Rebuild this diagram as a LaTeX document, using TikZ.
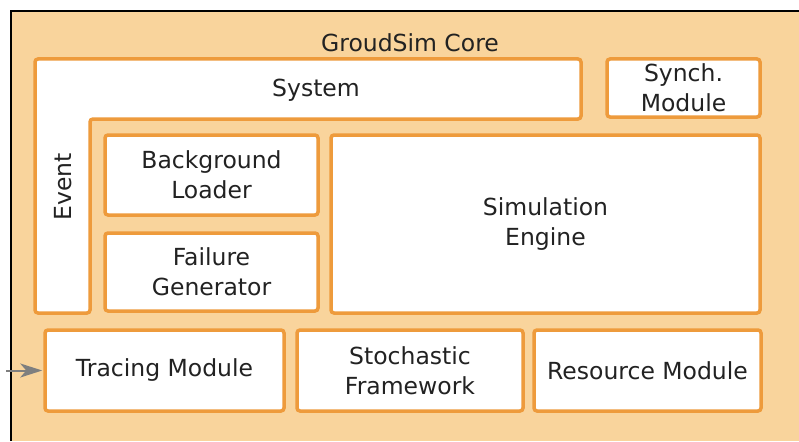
\documentclass[tikz,border=0pt]{standalone}
\usepackage{fontspec}
\setmainfont{DejaVu Sans}
\usetikzlibrary{arrows.meta}
\definecolor{bgorange}{HTML}{F9D49C}
\definecolor{boxorange}{HTML}{EE9B3C}
\definecolor{txt}{HTML}{222222}
\definecolor{arrowgray}{HTML}{7F7F7F}
\begin{document}
\begin{tikzpicture}[x=1pt,y=-1pt,
  lbl/.style={text=txt,font=\fontsize{23.5}{30}\selectfont,align=center,inner sep=0pt},
  box/.style={lbl,rectangle,rounded corners=3pt,draw=boxorange,line width=3.5pt,fill=white},
  >={Stealth[length=22pt,width=14pt,inset=6pt]}]
\useasboundingbox (0,0) rectangle (799,441);
\fill[bgorange] (11,11) rectangle (799,441);
\draw[black,line width=1.5pt] (11,441) -- (11,11) -- (799,11);
% System / Event L-shape
\draw[boxorange,line width=3.5pt,fill=white,rounded corners=3pt]
  (35,59) -- (581,59) -- (581,119) -- (90,119) -- (90,313) -- (35,313) -- cycle;
\node[lbl] (title) at (410,43) {GroudSim Core};
\node[lbl] (system) at (316,90) {System};
\node[lbl,rotate=90] (event) at (63,187) {Event};
\node[box,minimum width=153pt,minimum height=58pt] (synch) at (683.5,88) {Synch.\\Module};
\node[box,minimum width=213pt,minimum height=80pt] (bg) at (211.5,175) {Background\\Loader};
\node[box,minimum width=213pt,minimum height=78pt] (fail) at (211.5,272) {Failure\\Generator};
\node[box,minimum width=429pt,minimum height=178pt] (sim) at (545.5,224) {Simulation\\Engine};
\node[box,minimum width=239pt,minimum height=81pt] (trace) at (164.5,370.5) {Tracing Module};
\node[box,minimum width=226pt,minimum height=81pt] (stoch) at (410,370.5) {Stochastic\\Framework};
\node[box,minimum width=227pt,minimum height=81pt] (res) at (647.5,370.5) {Resource Module};
\coordinate (ain) at (6,370.5);
\draw[arrowgray,line width=2pt,->] (ain) -- ([xshift=-1pt]trace.west);
\end{tikzpicture}
\end{document}
